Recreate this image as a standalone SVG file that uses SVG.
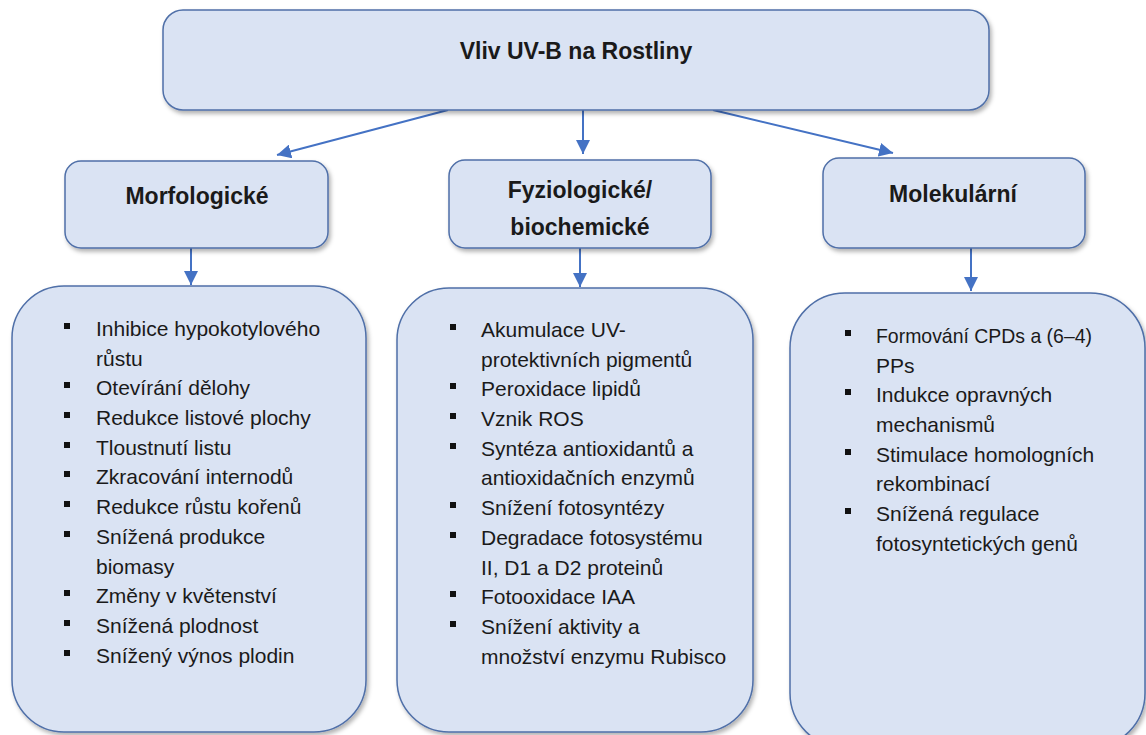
<svg xmlns="http://www.w3.org/2000/svg" width="1146" height="735" viewBox="0 0 1146 735">
<style>
.box{fill:#dae3f3;stroke:#4f6fa8;stroke-width:1.5;filter:url(#sh)}
.t{font-family:"Liberation Sans",Arial,sans-serif;fill:#1a1a1a}
.h{font-size:23px;font-weight:bold;text-anchor:middle}
.li{font-size:21px}
.b{fill:#111}
.c{stroke:#4472c4;stroke-width:2;fill:none;marker-end:url(#ah)}
</style>
<defs>
<filter id="sh" x="-10%" y="-10%" width="120%" height="120%">
<feDropShadow dx="2" dy="3" stdDeviation="2" flood-color="#000" flood-opacity="0.3"/>
</filter>
<marker id="ah" viewBox="0 0 10 10" refX="10" refY="5" markerWidth="7" markerHeight="7" orient="auto" markerUnits="strokeWidth">
<path d="M0,0 L10,5 L0,10 z" fill="#4472c4"/>
</marker>
</defs>
<rect width="1146" height="735" fill="#fff"/>

<g id="connectors">
<line class="c" x1="448" y1="110" x2="277" y2="155"/>
<line class="c" x1="583" y1="110" x2="583" y2="154"/>
<line class="c" x1="713" y1="110" x2="893" y2="153"/>
<line class="c" x1="191" y1="248" x2="191" y2="285"/>
<line class="c" x1="580" y1="248" x2="580" y2="287"/>
<line class="c" x1="971" y1="248" x2="971" y2="291"/>
</g>

<g id="root">
<rect class="box" x="163" y="10" width="826" height="100" rx="20"/>
<text class="t h" x="576" y="59">Vliv UV-B na Rostliny</text>
</g>

<g id="morfologicke">
<rect class="box" x="65" y="161" width="263" height="87" rx="16"/>
<text class="t h" x="197" y="204">Morfologické</text>
</g>

<g id="fyziologicke">
<rect class="box" x="449" y="160" width="262" height="88" rx="16"/>
<text class="t h" x="580" y="198">Fyziologické/</text>
<text class="t h" x="580" y="235">biochemické</text>
</g>

<g id="molekularni">
<rect class="box" x="823" y="158" width="262" height="90" rx="16"/>
<text class="t h" x="953" y="202">Molekulární</text>
</g>

<g id="morfologicke-list">
<rect class="box" x="12" y="286" width="354" height="446" rx="52"/>
<g class="b">
<rect x="64" y="323" width="6" height="6"/>
<rect x="64" y="382" width="6" height="6"/>
<rect x="64" y="412" width="6" height="6"/>
<rect x="64" y="442" width="6" height="6"/>
<rect x="64" y="471" width="6" height="6"/>
<rect x="64" y="501" width="6" height="6"/>
<rect x="64" y="531" width="6" height="6"/>
<rect x="64" y="590" width="6" height="6"/>
<rect x="64" y="620" width="6" height="6"/>
<rect x="64" y="650" width="6" height="6"/>
</g>
<g class="t li">
<text x="96" y="336">Inhibice hypokotylového</text>
<text x="96" y="366">růstu</text>
<text x="96" y="395">Otevírání dělohy</text>
<text x="96" y="425">Redukce listové plochy</text>
<text x="96" y="455">Tloustnutí listu</text>
<text x="96" y="484">Zkracování internodů</text>
<text x="96" y="514">Redukce růstu kořenů</text>
<text x="96" y="544">Snížená produkce</text>
<text x="96" y="574">biomasy</text>
<text x="96" y="603">Změny v květenství</text>
<text x="96" y="633">Snížená plodnost</text>
<text x="96" y="663">Snížený výnos plodin</text>
</g>
</g>

<g id="fyziologicke-list">
<rect class="box" x="397" y="288" width="356" height="444" rx="52"/>
<g class="b">
<rect x="450" y="324" width="6" height="6"/>
<rect x="450" y="383" width="6" height="6"/>
<rect x="450" y="413" width="6" height="6"/>
<rect x="450" y="443" width="6" height="6"/>
<rect x="450" y="502" width="6" height="6"/>
<rect x="450" y="532" width="6" height="6"/>
<rect x="450" y="591" width="6" height="6"/>
<rect x="450" y="621" width="6" height="6"/>
</g>
<g class="t li">
<text x="481" y="337">Akumulace UV-</text>
<text x="481" y="367">protektivních pigmentů</text>
<text x="481" y="396">Peroxidace lipidů</text>
<text x="481" y="426">Vznik ROS</text>
<text x="481" y="456">Syntéza antioxidantů a</text>
<text x="481" y="485">antioxidačních enzymů</text>
<text x="481" y="515">Snížení fotosyntézy</text>
<text x="481" y="545">Degradace fotosystému</text>
<text x="481" y="575">II, D1 a D2 proteinů</text>
<text x="481" y="604">Fotooxidace IAA</text>
<text x="481" y="634">Snížení aktivity a</text>
<text x="481" y="664">množství enzymu Rubisco</text>
</g>
</g>

<g id="molekularni-list">
<rect class="box" x="790" y="293" width="355" height="455" rx="55"/>
<g class="b">
<rect x="845" y="330" width="6" height="6"/>
<rect x="845" y="389" width="6" height="6"/>
<rect x="845" y="449" width="6" height="6"/>
<rect x="845" y="508" width="6" height="6"/>
</g>
<g class="t li">
<text x="876" y="343" textLength="216" lengthAdjust="spacingAndGlyphs">Formování CPDs a (6–4)</text>
<text x="876" y="373">PPs</text>
<text x="876" y="402">Indukce opravných</text>
<text x="876" y="432">mechanismů</text>
<text x="876" y="462">Stimulace homologních</text>
<text x="876" y="491">rekombinací</text>
<text x="876" y="521">Snížená regulace</text>
<text x="876" y="551">fotosyntetických genů</text>
</g>
</g>
</svg>
